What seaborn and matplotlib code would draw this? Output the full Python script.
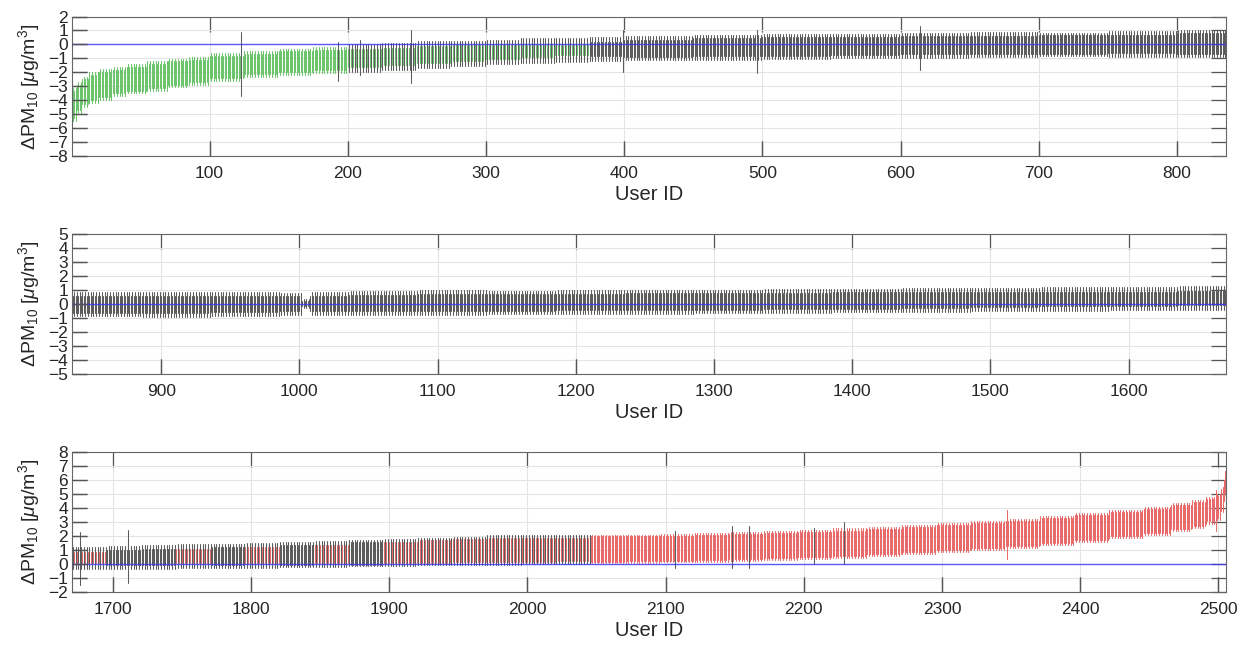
"""Per-user confidence intervals of Delta PM10, split over three panels."""

import matplotlib

matplotlib.use("Agg")
import matplotlib.pyplot as plt
import numpy as np
import pandas as pd
import seaborn as sns

# Block-wise readings: a block runs from its start user up to
# the next start. Even users take the short half-width, odd users the long one.
block_start = [
    1, 4, 8, 13, 20, 30, 40, 55, 70, 85, 100, 125, 150, 175, 200, 225, 250,
    275, 300, 325, 350, 375, 400, 450, 500, 550, 600, 650, 700, 750, 800,
    836, 886, 936, 986, 1002, 1008, 1036, 1086, 1136, 1186, 1236, 1286,
    1336, 1386, 1436, 1486, 1536, 1586, 1636,
    1671, 1696, 1721, 1746, 1771, 1796, 1821, 1846, 1871, 1896, 1921, 1946,
    1971, 1996, 2021, 2046, 2071, 2096, 2121, 2146, 2171, 2196, 2221, 2246,
    2271, 2296, 2321, 2346, 2371, 2396, 2421, 2446, 2466, 2481, 2491, 2498,
    2502, 2504, 2505,
]
block_centre = [
    -4.3, -3.8, -3.4, -3.1, -2.85, -2.65, -2.45, -2.25, -2.05, -1.9, -1.6,
    -1.4, -1.25, -1.1, -0.95, -0.85, -0.72, -0.62, -0.55, -0.45, -0.4, -0.33,
    -0.28, -0.2, -0.15, -0.1, -0.06, -0.02, 0.0, 0.03, 0.05,
    0.0, 0.0, 0.02, 0.03, 0.05, 0.05, 0.08, 0.1, 0.12, 0.15, 0.18, 0.2,
    0.23, 0.26, 0.3, 0.33, 0.37, 0.4, 0.45,
    0.45, 0.48, 0.52, 0.56, 0.6, 0.64, 0.68, 0.72, 0.78, 0.84, 0.9, 0.95,
    1.0, 1.03, 1.05, 1.08, 1.1, 1.13, 1.2, 1.27, 1.35, 1.42, 1.5, 1.62,
    1.75, 1.9, 2.05, 2.2, 2.4, 2.6, 2.85, 3.1, 3.35, 3.6, 3.85, 4.1,
    4.6, 5.3, 5.9,
]
block_hw_short = [
    1.0, 0.9, 0.9, 0.9, 0.9, 0.85, 0.85, 0.85, 0.85, 0.8, 0.8, 0.75, 0.75,
    0.7, 0.65, 0.6, 0.6, 0.55, 0.5, 0.42, 0.38, 0.5, 0.6, 0.65, 0.65, 0.65,
    0.65, 0.65, 0.65, 0.65, 0.75,
    0.6, 0.6, 0.6, 0.55, 0.2, 0.55, 0.6, 0.6, 0.6, 0.6, 0.6, 0.6,
    0.6, 0.6, 0.6, 0.55, 0.5, 0.5, 0.5,
    0.4, 0.55, 0.55, 0.5, 0.65, 0.58, 0.72, 0.66, 0.82, 0.75, 0.8, 0.82,
    0.85, 0.85, 0.85, 0.9, 0.9, 0.9, 0.9, 0.9, 0.9, 0.9, 0.9, 0.9,
    0.9, 0.9, 0.9, 0.9, 0.9, 0.9, 0.85, 0.85, 0.85, 0.85, 0.8, 0.8,
    0.8, 0.75, 0.75,
]
block_hw_long = [
    1.2, 1.1, 1.1, 1.1, 1.1, 1.05, 1.05, 1.05, 1.0, 1.0, 1.0, 0.95, 0.95,
    0.95, 1.0, 0.95, 0.95, 0.9, 0.85, 0.9, 0.85, 0.85, 0.85, 0.9, 0.9, 0.85,
    0.9, 0.9, 0.85, 0.9, 0.95,
    0.85, 0.9, 0.85, 0.8, 0.3, 0.8, 0.85, 0.9, 0.85, 0.85, 0.85, 0.85,
    0.85, 0.85, 0.85, 0.85, 0.85, 0.85, 0.85,
    0.8, 0.85, 0.85, 0.85, 0.85, 0.9, 0.9, 0.9, 0.95, 0.95, 0.95, 1.0,
    1.05, 1.05, 1.05, 1.0, 1.0, 1.0, 1.05, 1.05, 1.05, 1.05, 1.05, 1.05,
    1.05, 1.05, 1.05, 1.05, 1.05, 1.05, 1.0, 1.0, 1.0, 1.0, 0.95, 0.95,
    0.9, 0.85, 0.8,
]

# single users whose interval stands out from their neighbours
outlier_user = [123, 193, 209, 246, 399, 496, 614,
                1676, 1711, 2107, 2148, 2160, 2207, 2229, 2347, 2498]
outlier_centre = [-1.4, -1.25, -0.95, -0.85, -0.5, -0.5, -0.25,
                  0.4, 0.55, 1.05, 1.2, 1.2, 1.3, 1.5, 2.1, 3.85]
outlier_hw = [2.3, 1.4, 1.25, 1.9, 1.5, 1.55, 1.6,
              1.9, 1.9, 1.35, 1.5, 1.5, 1.3, 1.5, 1.75, 1.45]

n_users = 2505
row_start = [1, 836, 1671]
row_end = [835, 1670, 2505]
row_ylim = [(-8, 2), (-5, 5), (-2, 8)]
row_xticks = [range(100, 900, 100), range(900, 1700, 100), range(1700, 2600, 100)]

status_colors = {"neg": "#6cc46c", "pos": "#e86a6a", "ns": "#5c5c5c"}

sns.set_theme(style="whitegrid")
plt.rcParams["font.family"] = ["Liberation Sans", "DejaVu Sans"]
plt.rcParams["mathtext.fontset"] = "custom"
plt.rcParams["mathtext.rm"] = "Liberation Sans"
plt.rcParams["mathtext.it"] = "Liberation Sans:italic"
# MATLAB-like box: inward ticks on all four sides
plt.rcParams.update({
    "xtick.bottom": True, "xtick.top": True, "ytick.left": True, "ytick.right": True,
    "xtick.direction": "in", "ytick.direction": "in",
    "xtick.major.size": 11, "ytick.major.size": 11,
    "xtick.major.width": 0.9, "ytick.major.width": 0.9,
    "xtick.color": "#555555", "ytick.color": "#555555",
    "xtick.labelcolor": "#262626", "ytick.labelcolor": "#262626",
})

users = np.arange(1, n_users + 1)
idx = np.searchsorted(block_start, users, side="right") - 1
centre = np.array(block_centre)[idx]
hw = np.where(users % 2 == 0,
              np.array(block_hw_short)[idx], np.array(block_hw_long)[idx])
for u, c, h in zip(outlier_user, outlier_centre, outlier_hw):
    centre[u - 1] = c
    hw[u - 1] = h

lo, hi = centre - hw, centre + hw
status = np.where(hi < 0, "neg", np.where(lo > 0, "pos", "ns"))
ci = pd.DataFrame({"user": users, "lo": lo, "hi": hi, "status": status})
long_df = ci.melt(id_vars=["user", "status"], value_vars=["lo", "hi"],
                  value_name="value")

fig = plt.figure(figsize=(12.53, 6.48), dpi=100)
bottoms = [0.759, 0.4228, 0.0864]
ylabel = r"$\Delta$PM$_{10}$ [$\mu$g/m$^3$]"
tick_kw = dict(color="#555555", ls="none", markersize=11, markeredgewidth=0.9,
               clip_on=False, zorder=7)

for k in range(3):
    ax = fig.add_axes([0.0575, bottoms[k], 0.921, 0.2155])
    sub = long_df[(long_df["user"] >= row_start[k]) & (long_df["user"] <= row_end[k])]
    present = [s for s in ["neg", "pos", "ns"] if s in set(sub["status"])]
    sns.lineplot(data=sub, x="user", y="value", units="user", estimator=None,
                 hue="status", hue_order=present, palette=status_colors,
                 legend=False, linewidth=0.75, sort=False, ax=ax)
    ax.axhline(0, color="#3636ff", lw=1.0, alpha=0.8, zorder=5)

    xt = list(row_xticks[k])
    yt = list(range(row_ylim[k][0], row_ylim[k][1] + 1))
    ax.set_xlim(row_start[k] - 0.5, row_end[k] + 0.5)
    ax.set_ylim(*row_ylim[k])
    ax.set_yticks(yt)
    ax.set_xticks(xt)
    ax.set_xlabel("User ID", fontsize=14.5, color="#262626", labelpad=3)
    ax.set_ylabel(ylabel, fontsize=14, color="#262626")
    ax.yaxis.set_label_coords(-0.026, 0.5)

    ax.grid(True, color="#e4e4e4", lw=0.8)
    ax.tick_params(labelsize=12.5, bottom=True, left=True, top=True, right=True,
                   length=11, width=0.9, direction="in")
    ax.tick_params(axis="x", pad=7)
    ax.tick_params(axis="y", pad=3)
    # bottom and left inward tick marks, drawn explicitly so they sit on top
    ax.plot(xt, np.zeros(len(xt)), marker=2,
            transform=ax.get_xaxis_transform(), **tick_kw)
    ax.plot(np.zeros(len(yt)), yt, marker=1,
            transform=ax.get_yaxis_transform(), **tick_kw)
    ax.set_xlim(row_start[k] - 0.5, row_end[k] + 0.5)
    ax.set_ylim(*row_ylim[k])
    for sp in ax.spines.values():
        sp.set_color("#666666")
        sp.set_linewidth(0.8)

fig.savefig("out.png", dpi=100)
plt.close(fig)
